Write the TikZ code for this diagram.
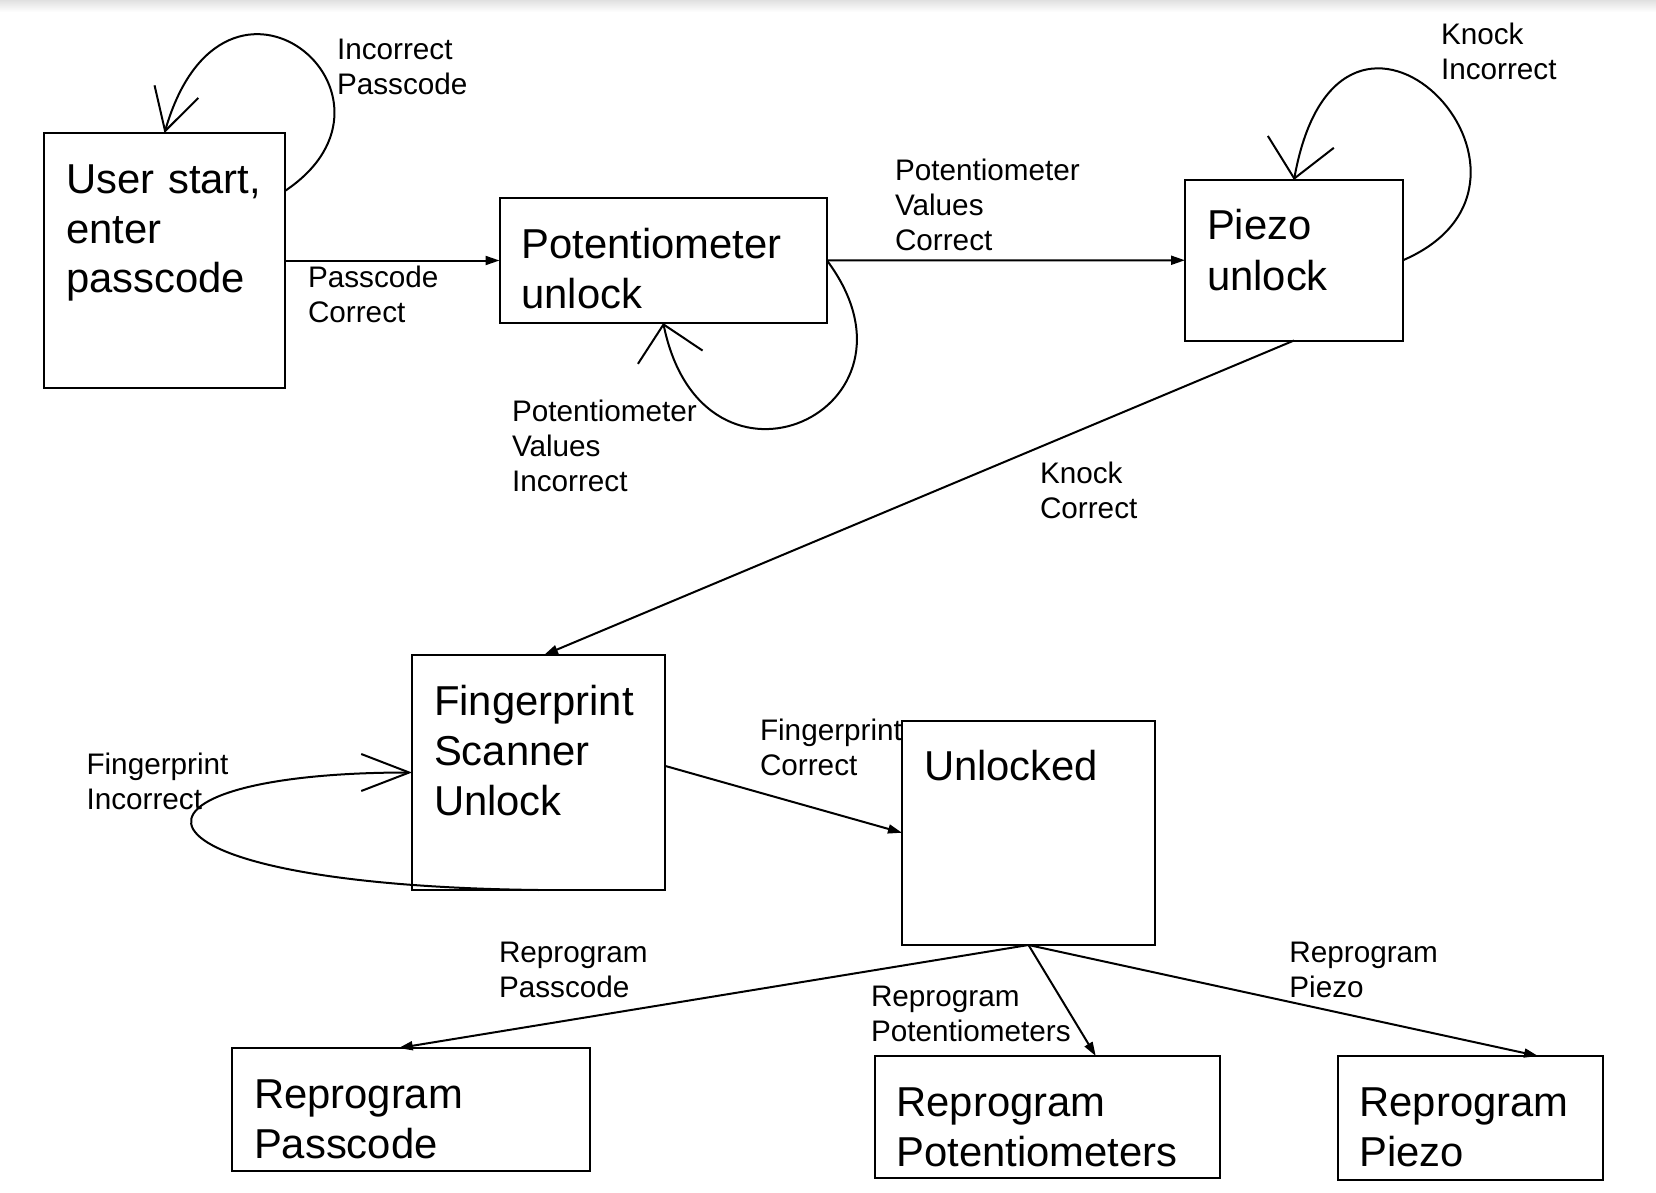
\documentclass[tikz,border=0pt]{standalone}
\usepackage{fontspec}
\setmainfont{Liberation Sans}
\usetikzlibrary{positioning,arrows.meta}

\begin{document}
\begin{tikzpicture}[x=0.5pt, y=-0.5pt, line width=1pt,
>={Triangle[length=7pt,width=4.5pt]},
state/.style={draw, anchor=north west, align=left, inner xsep=11pt, inner ysep=0pt, outer sep=0pt,
  text height=30pt, font=\fontsize{20.9pt}{25pt}\selectfont},
edgetext/.style={anchor=north west, inner sep=0pt, align=left,
  font=\fontsize{14.85pt}{17.5pt}\selectfont},
trans/.style={->},
retry/.style 2 args={-{Straight Barb[length=#1,width=#2]}}]

\useasboundingbox (0,0) rectangle (1656,1193);
\shade[top color=black!12, bottom color=white] (0,0) rectangle (1656,12);

\node[state] [text width=98.5pt, text depth=97.5pt] (user) at (44,133) {User start,\\enter\\passcode};
\node[state] [text width=141.75pt, text depth=32.5pt] (pot) [below right=32.5pt and 107.25pt of user.north east] {Potentiometer\\unlock};
\node[state] [text width=87pt, text depth=50.25pt] (piezo) [below right=-9pt and 179pt of pot.north east] {Piezo\\unlock};
\node[state] [text width=104.5pt, text depth=87.5pt] (finger) [below right=133.5pt and 184pt of user.south west] {Fingerprint\\Scanner\\Unlock};
\node[state] [text width=104.5pt, text depth=82.25pt] (unlocked) [below right=32.75pt and 118.5pt of finger.north east] {Unlocked};
\node[state] [text width=156.75pt, text depth=31.25pt] (reppass) [below right=79pt and -90pt of finger.south west] {Reprogram\\Passcode};
\node[state] [text width=150.75pt, text depth=30.75pt] (reppot) [below right=55.5pt and -13.75pt of unlocked.south west] {Reprogram\\Potentiometers};
\node[state] [text width=110.75pt, text depth=32pt] (reppiezo) [below right=0pt and 58.75pt of reppot.north east] {Reprogram\\Piezo};

\node[edgetext] (wrongpass) at (336,38.5) {Incorrect\\Passcode};
\node[edgetext] (rightpass) at (307,265) {Passcode\\Correct};
\node[edgetext] (rightpot) at (894,158) {Potentiometer\\Values\\Correct};
\node[edgetext] (wrongpot) at (511,399) {Potentiometer\\Values\\Incorrect};
\node[edgetext] (wrongknock) at (1440,21.5) {Knock\\Incorrect};
\node[edgetext] (rightknock) at (1039,461) {Knock\\Correct};
\node[edgetext] (wrongfinger) at (85.5,752) {Fingerprint\\Incorrect};
\node[edgetext] (rightfinger) at (759,718.3) {Fingerprint\\Correct};
\node[edgetext] (toreppass) at (498,941) {Reprogram\\Passcode};
\node[edgetext] (toreppot) at (870,985) {Reprogram\\Potentiometers};
\node[edgetext] (toreppiezo) at (1288.4,941) {Reprogram\\Piezo};

\path (user.east) edge[trans] (pot.west)
      (pot.east) edge[trans] (piezo.west)
      (piezo.south) edge[trans] ([xshift=2.75pt]finger.north)
      (finger.3) edge[trans] (unlocked.west);
\foreach \x/\s in {reppass/-6pt, reppot/24.25pt, reppiezo/33.9pt}
  \path (unlocked.south) edge[trans] ([xshift=\s]\x.north);

\draw[retry={20.5pt}{22.8pt}] (user.30) .. controls +(142,-95) and +(59.6,-206.6) .. (user.north);
\draw[retry={16.75pt}{33pt}] (pot.east) .. controls +(112,150) and +(40,195) .. (pot.south);
\draw[retry={18.6pt}{33.5pt}] (piezo.east) .. controls +(185,-80) and +(46,-255.8) .. (piezo.north);
\draw[retry={24pt}{18.5pt}] (finger.south) .. controls +(-437,-5) and +(-313.7,0) .. (finger.west);
\end{tikzpicture}
\end{document}
